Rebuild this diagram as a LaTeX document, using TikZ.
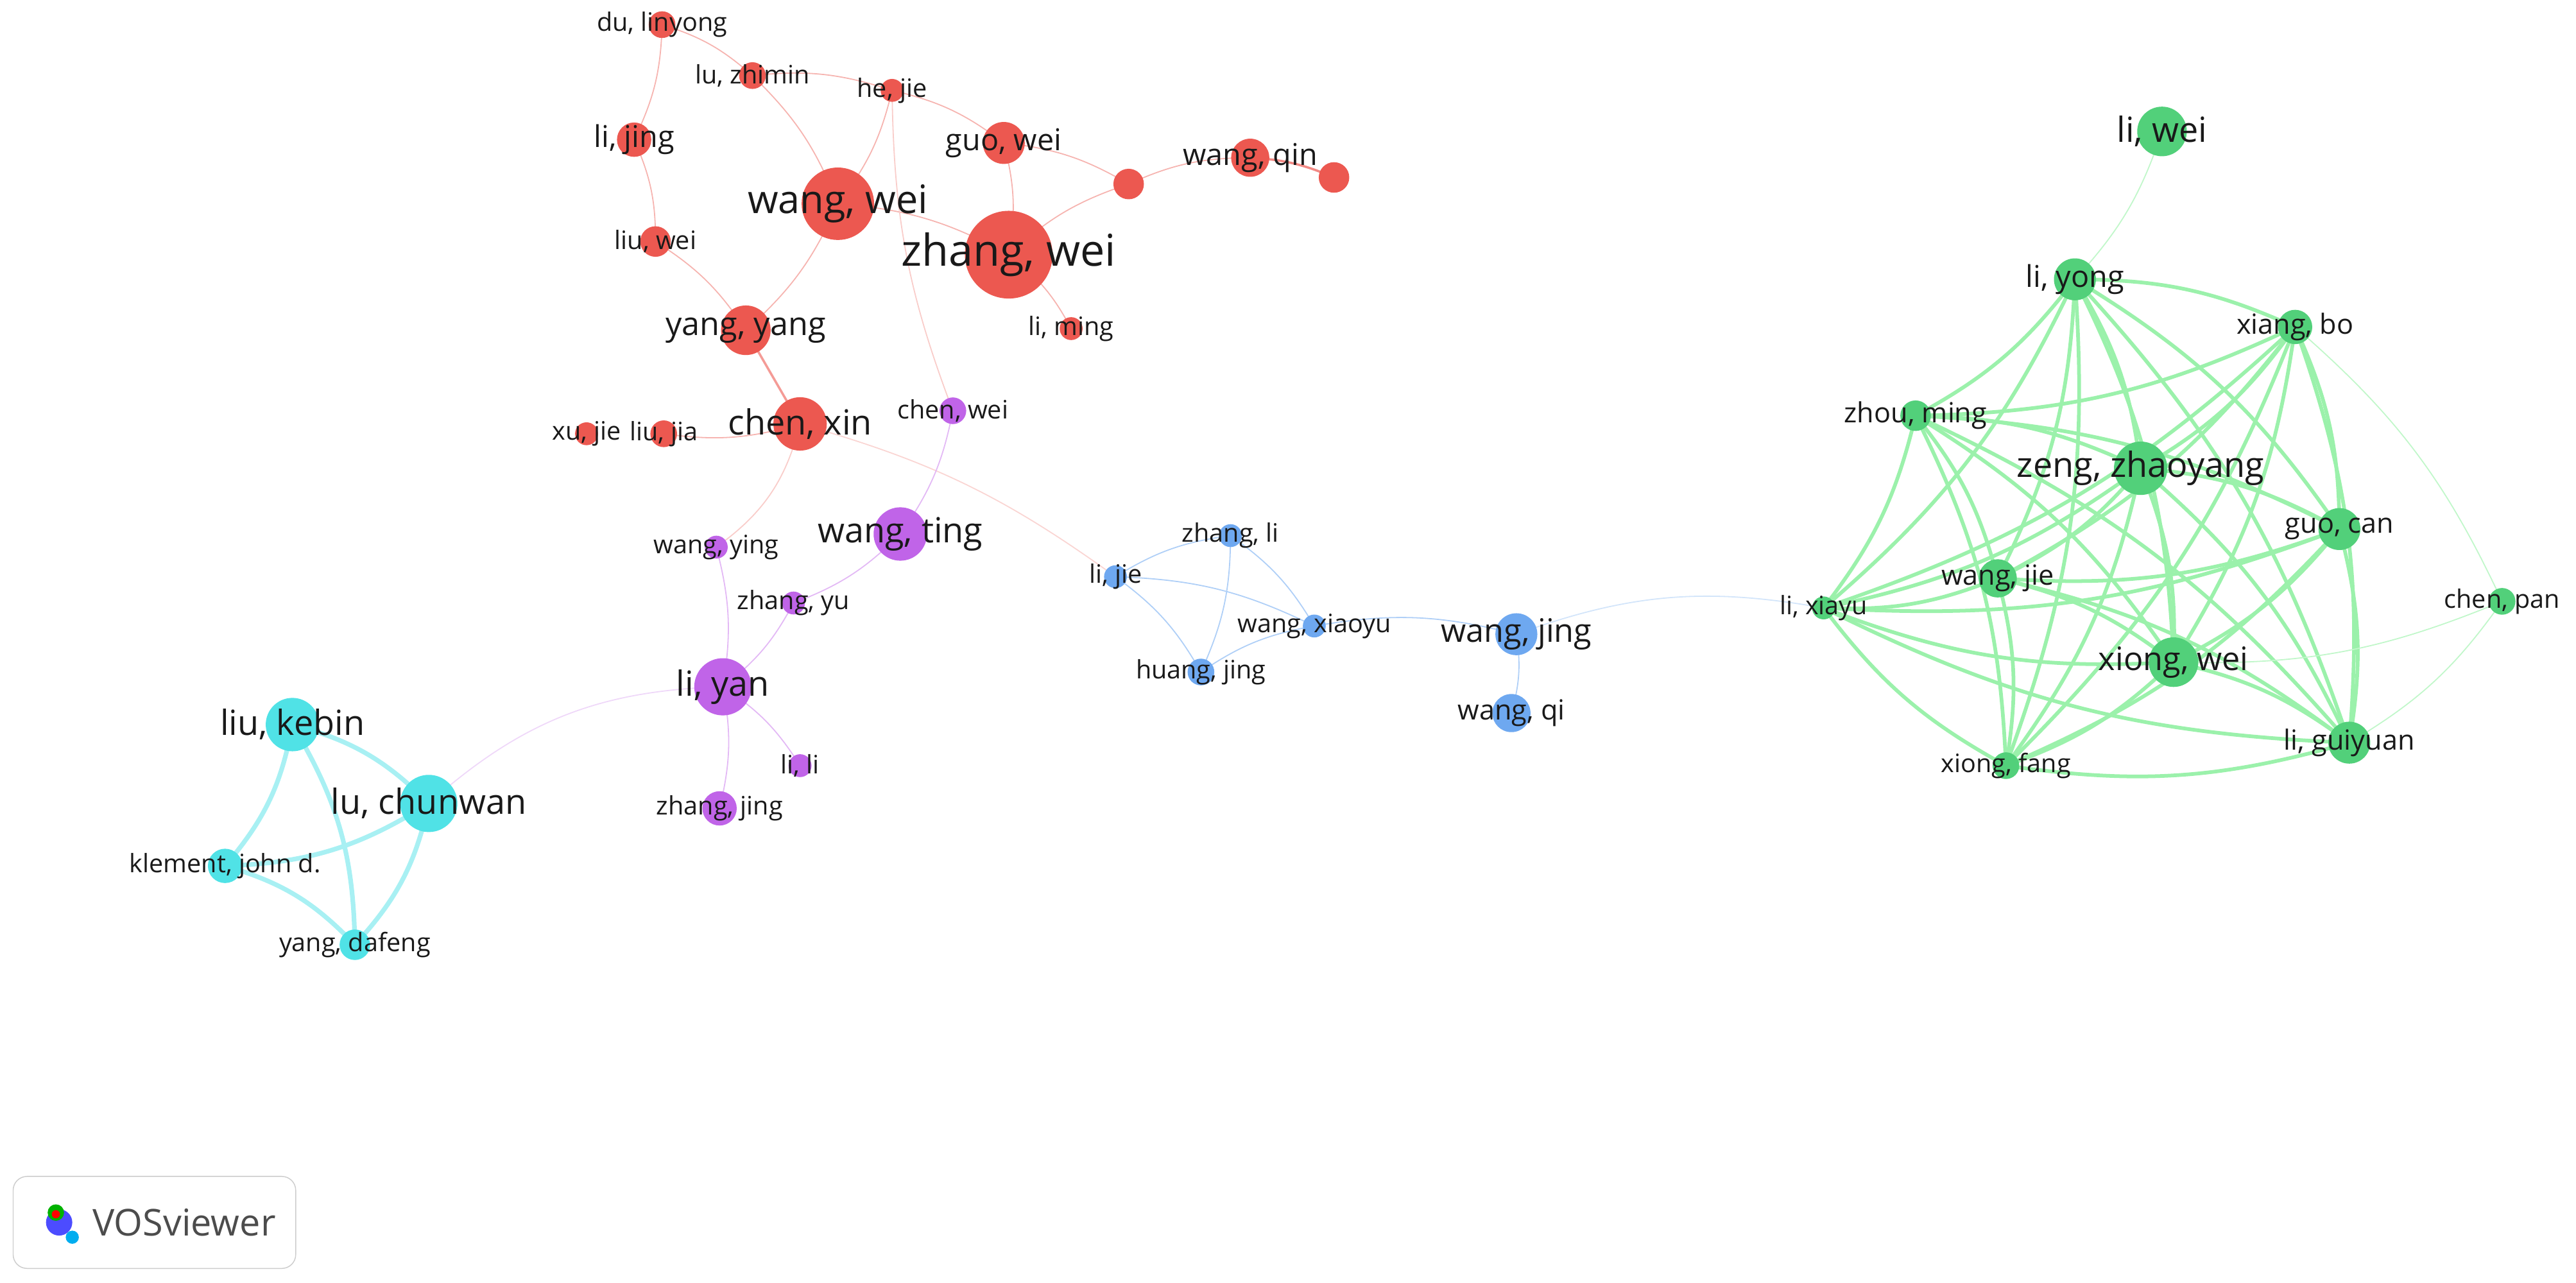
\documentclass[tikz,border=0pt]{standalone}
\usepackage{fontspec}
\setmainfont{Open Sans}
\usetikzlibrary{positioning}
\definecolor{cred}{RGB}{236,88,80}
\definecolor{cpur}{RGB}{192,100,232}
\definecolor{cblu}{RGB}{110,168,240}
\definecolor{ccya}{RGB}{80,226,230}
\definecolor{cgrn}{RGB}{82,208,122}
\definecolor{egrn}{RGB}{130,238,150}
\tikzset{
  dot/.style={circle, inner sep=0pt, minimum size=#1},
  lab/.style={inner sep=0pt, text=black!90},
  link/.style={bend left=12, line width=0.5pt},
}
% node: name, x, y, diameter, colour, font size, text
\newcommand{\vnode}[7]{%
  \node[dot=#4*0.029cm, fill=#5] (#1) at (#2,-#3) {};
  \node[lab, font=\fontsize{#6}{#6}\selectfont] (#1-l) at (#1) {#7};}
\begin{document}
\begin{tikzpicture}[x=0.025cm, y=0.025cm]
\useasboundingbox (0,0) rectangle (1568,-780.5);
\path
  (403,-15) coordinate (pdu) (458,-46) coordinate (plz) (543,-55) coordinate (phj)
  (386,-85) coordinate (plj) (611,-87) coordinate (pgw) (687,-112) coordinate (pu1)
  (761,-96) coordinate (pwq) (812,-108) coordinate (pu2) (510,-124) coordinate (pww)
  (614,-155) coordinate (pzw) (399,-147) coordinate (plw) (652,-200) coordinate (plm)
  (454,-201) coordinate (pyy) (487,-258) coordinate (pcx) (357,-264) coordinate (pxj)
  (404,-264) coordinate (plja) (580,-250) coordinate (pcw) (548,-325) coordinate (pwt)
  (436,-333) coordinate (pwy) (483,-367) coordinate (pzy) (440,-418) coordinate (ply)
  (487,-466) coordinate (pll) (438,-492) coordinate (pzj) (749,-326) coordinate (pzl)
  (679,-351) coordinate (plje) (800,-381) coordinate (pwx) (731,-409) coordinate (phg)
  (923,-386) coordinate (pwj) (920,-434) coordinate (pwqi) (178,-441) coordinate (plk)
  (261,-489) coordinate (plc) (137,-527) coordinate (pkj) (216,-575) coordinate (pyd)
  (1316,-80) coordinate (pliw) (1263,-170) coordinate (pliy) (1397,-199) coordinate (pxb)
  (1166,-253) coordinate (pzm) (1303,-285) coordinate (pzz) (1424,-322) coordinate (pgc)
  (1216,-352) coordinate (pwje) (1523,-366) coordinate (pcp) (1110,-370) coordinate (plx)
  (1323,-403) coordinate (pxw) (1430,-452) coordinate (plg) (1221,-466) coordinate (pxf);
% red links
\foreach \a/\b in {pdu/plj, pdu/plz, plz/pww, plz/phj, phj/pgw, phj/pww, pww/pzw,
  pww/pyy, plj/plw, plw/pyy, pgw/pzw, pgw/pu1, pzw/pu1, pu1/pwq, pzw/plm, pcx/plja}
  \draw[cred!45, link] (\a) to (\b);
\draw[cred!70, line width=1pt] (pwq) to[bend left=10] (pu2);
\draw[cred!60, line width=1pt] (pyy) -- (pcx);
\draw[cred!30, link] (pcx) to[bend left=20] (pwy);
\draw[cred!25, link] (pcx) to[bend left=10] (plje);
\draw[cred!30, link] (phj) to[bend right=10] (pcw);
% purple links
\foreach \a/\b in {pcw/pwt, pwy/ply, pwt/pzy, pzy/ply, ply/pll, ply/pzj}
  \draw[cpur!45, link] (\a) to (\b);
\draw[cpur!25, link] (ply) to[bend right=20] (plc);
% blue links
\foreach \a/\b in {plje/pzl, plje/pwx, plje/phg, pzl/phg, pzl/pwx, phg/pwx, pwx/pwj, pwj/pwqi}
  \draw[cblu!55, link] (\a) to (\b);
\draw[cblu!30, link] (pwj) to[bend left=15] (plx);
% cyan links
\foreach \a/\b in {plk/plc, plk/pkj, plk/pyd, plc/pkj, plc/pyd, pkj/pyd}
  \draw[ccya!50, line width=2pt, bend left=15] (\a) to (\b);
% green links
\foreach \a/\b in {pliy/pxb, pliy/pzm, pliy/pzz, pliy/pgc, pliy/pwje, pliy/pxw, pliy/plg, pliy/pxf, pliy/plx,
  pxb/pzm, pxb/pzz, pxb/pgc, pxb/pwje, pxb/pxw, pxb/plg, pxb/pxf, pxb/plx,
  pzm/pzz, pzm/pgc, pzm/pwje, pzm/pxw, pzm/plg, pzm/pxf, pzm/plx,
  pzz/pgc, pzz/pwje, pzz/pxw, pzz/plg, pzz/pxf, pzz/plx,
  pgc/pwje, pgc/pxw, pgc/plg, pgc/pxf, pgc/plx,
  pwje/pxw, pwje/plg, pwje/pxf, pwje/plx,
  pxw/plg, pxw/pxf, pxw/plx, plg/pxf, plg/plx, pxf/plx}
  \draw[egrn!80, line width=1.6pt, bend left=12] (\a) to (\b);
\foreach \a/\b in {pliw/pliy, pxb/pcp, pcp/pxw, pcp/plg}
  \draw[egrn!50, link] (\a) to (\b);
% red nodes
\vnode{du}{403}{15}{14}{cred}{11}{du, linyong}
\vnode{lz}{458}{46}{14}{cred}{11}{lu, zhimin}
\vnode{hj}{543}{55}{12}{cred}{11}{he, jie}
\vnode{lj}{386}{85}{18}{cred}{13}{li, jing}
\vnode{gw}{611}{87}{22}{cred}{13}{guo, wei}
\node[dot=16*0.029cm, fill=cred] (u1) at (687,-112) {};
\vnode{wq}{761}{96}{20}{cred}{13}{wang, qin}
\node[dot=16*0.029cm, fill=cred] (u2) at (812,-108) {};
\vnode{ww}{510}{124}{38}{cred}{17}{wang, wei}
\vnode{zw}{614}{155}{46}{cred}{19}{zhang, wei}
\vnode{lw}{399}{147}{16}{cred}{11}{liu, wei}
\vnode{lm}{652}{200}{12}{cred}{11}{li, ming}
\vnode{yy}{454}{201}{26}{cred}{14}{yang, yang}
\vnode{cx}{487}{258}{28}{cred}{15}{chen, xin}
\vnode{xj}{357}{264}{12}{cred}{11}{xu, jie}
\vnode{lja}{404}{264}{14}{cred}{11}{liu, jia}
% purple nodes
\vnode{cw}{580}{250}{14}{cpur}{11}{chen, wei}
\vnode{wt}{548}{325}{28}{cpur}{15}{wang, ting}
\vnode{wy}{436}{333}{12}{cpur}{11}{wang, ying}
\vnode{zy}{483}{367}{12}{cpur}{11}{zhang, yu}
\vnode{ly}{440}{418}{30}{cpur}{15}{li, yan}
\vnode{ll}{487}{466}{12}{cpur}{11}{li, li}
\vnode{zj}{438}{492}{18}{cpur}{11}{zhang, jing}
% blue nodes
\vnode{zl}{749}{326}{12}{cblu}{11}{zhang, li}
\vnode{lje}{679}{351}{12}{cblu}{11}{li, jie}
\vnode{wx}{800}{381}{12}{cblu}{11}{wang, xiaoyu}
\vnode{hg}{731}{409}{14}{cblu}{11}{huang, jing}
\vnode{wj}{923}{386}{22}{cblu}{14}{wang, jing}
\vnode{wqi}{920}{434}{20}{cblu}{12}{wang, qi}
% cyan nodes
\vnode{lk}{178}{441}{28}{ccya}{15}{liu, kebin}
\vnode{lc}{261}{489}{30}{ccya}{15}{lu, chunwan}
\vnode{kj}{137}{527}{18}{ccya}{11}{klement, john d.}
\vnode{yd}{216}{575}{16}{ccya}{11}{yang, dafeng}
% green nodes
\vnode{liw}{1316}{80}{26}{cgrn}{15}{li, wei}
\vnode{liy}{1263}{170}{22}{cgrn}{13}{li, yong}
\vnode{xb}{1397}{199}{18}{cgrn}{12}{xiang, bo}
\vnode{zm}{1166}{253}{16}{cgrn}{12}{zhou, ming}
\vnode{zz}{1303}{285}{28}{cgrn}{15}{zeng, zhaoyang}
\vnode{gc}{1424}{322}{22}{cgrn}{12}{guo, can}
\vnode{wje}{1216}{352}{20}{cgrn}{12}{wang, jie}
\vnode{cp}{1523}{366}{14}{cgrn}{11}{chen, pan}
\vnode{lx}{1110}{370}{12}{cgrn}{11}{li, xiayu}
\vnode{xw}{1323}{403}{26}{cgrn}{14}{xiong, wei}
\vnode{lg}{1430}{452}{22}{cgrn}{12}{li, guiyuan}
\vnode{xf}{1221}{466}{14}{cgrn}{11}{xiong, fang}
% logo
\node[draw=black!20, rounded corners=6pt, minimum width=172*0.025cm, minimum height=56*0.025cm] (logo) at (94,-744) {};
\node[inner sep=0pt, font=\fontsize{16}{16}\selectfont, text=black!70, anchor=west] (logotxt) at (56,-744) {VOSviewer};
\node[circle, inner sep=0pt, fill=blue!70, minimum size=16*0.025cm] (ic1) at (36,-744) {};
\node[circle, inner sep=0pt, fill=green!70!black, minimum size=10*0.025cm] (ic2) at (34,-738) {};
\node[circle, inner sep=0pt, fill=red, minimum size=5*0.025cm] (ic3) at (34,-739) {};
\node[circle, inner sep=0pt, fill=cyan, minimum size=8*0.025cm] (ic4) at (44,-753) {};
\end{tikzpicture}
\end{document}
